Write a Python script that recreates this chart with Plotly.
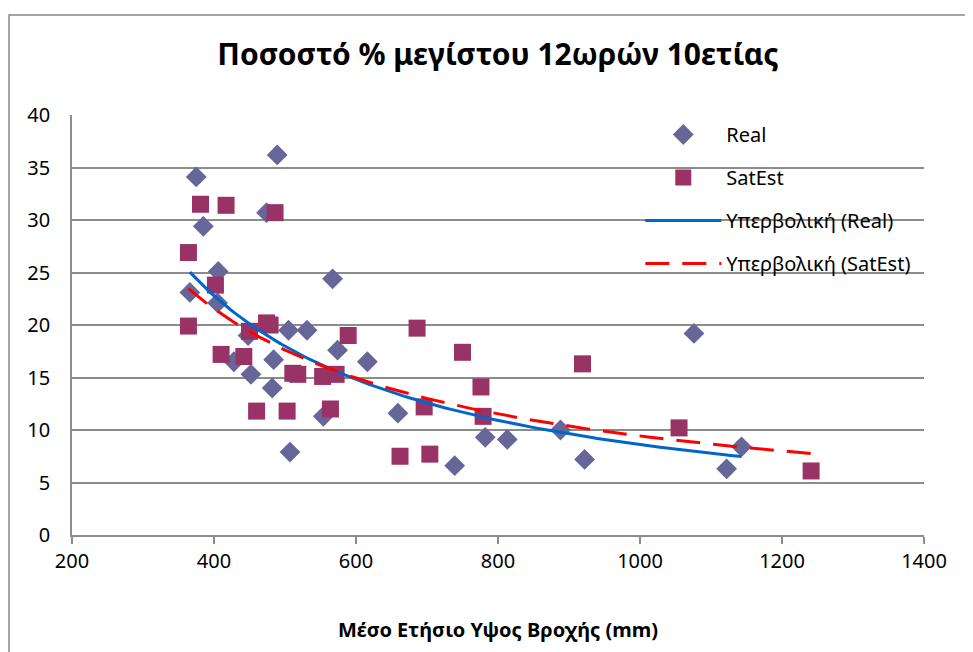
import numpy as np
import plotly.graph_objects as go

# ---- data ----
real_x = [489, 375, 474, 385, 406, 567, 366, 405, 505, 531, 574, 428, 484, 452,
          482, 554, 507, 616, 659, 782, 813, 739, 1076, 888, 922, 1122, 1143, 448]
real_y = [36.2, 34.1, 30.7, 29.4, 25.1, 24.4, 23.1, 22.1, 19.5, 19.5, 17.6, 16.5, 16.7, 15.3,
          14.0, 11.3, 7.9, 16.5, 11.6, 9.3, 9.1, 6.6, 19.2, 10.0, 7.2, 6.3, 8.4, 19.0]

sat_x = [381, 417, 486, 364, 402, 364, 474, 479, 450, 589, 410, 442, 511, 518, 553,
         572, 460, 503, 564, 686, 750, 776, 696, 779, 662, 704, 919, 1055, 1241]
sat_y = [31.5, 31.4, 30.7, 26.9, 23.8, 19.9, 20.2, 20.0, 19.4, 19.0, 17.2, 17.0, 15.4, 15.3, 15.1,
         15.3, 11.8, 11.8, 12.0, 19.7, 17.4, 14.1, 12.2, 11.3, 7.5, 7.7, 16.3, 10.2, 6.1]

title_text = "Ποσοστό % μεγίστου 12ωρών 10ετίας"
x_title = "Μέσο Ετήσιο Υψος Βροχής (mm)"
names = ["Real", "SatEst", "Υπερβολική (Real)", "Υπερβολική (SatEst)"]


def power_fit(x, y, n=150):
    x = np.asarray(x, float)
    y = np.asarray(y, float)
    b, loga = np.polyfit(np.log(x), np.log(y), 1)
    xs = np.linspace(x.min(), x.max(), n)
    return xs, np.exp(loga) * xs ** b


rx, ry = power_fit(real_x, real_y)
sx, sy = power_fit(sat_x, sat_y)

FONT = "Noto Sans"
fig = go.Figure()
fig.add_trace(go.Scatter(x=real_x, y=real_y, mode="markers", name=names[0], legendgroup="a",
                         marker=dict(symbol="diamond", size=16, color="#666699", line=dict(width=0))))
fig.add_trace(go.Scatter(x=sat_x, y=sat_y, mode="markers", name=names[1], legendgroup="b",
                         marker=dict(symbol="square", size=17, color="#993366", line=dict(width=0))))
fig.add_trace(go.Scatter(x=rx, y=ry, mode="lines", name=names[2], legendgroup="c",
                         line=dict(color="#0066CC", width=3)))
fig.add_trace(go.Scatter(x=sx, y=sy, mode="lines", name=names[3], legendgroup="d",
                         line=dict(color="#FF0000", width=3, dash="24px,13px")))

grid = "#8c8c8c"
fig.update_layout(
    width=973, height=652,
    margin=dict(l=64, r=57, t=107, b=125),
    paper_bgcolor="white", plot_bgcolor="white",
    font=dict(family=FONT, size=20, color="black"),
    title=dict(text="<b>" + title_text + "</b>", x=0.5, xref="paper", y=0.928, yref="container",
               xanchor="center", yanchor="middle", font=dict(size=30, family=FONT)),
    showlegend=True,
    legend=dict(x=0.667, xanchor="left", y=1.0, yanchor="top", tracegroupgap=14, itemwidth=76,
                font=dict(size=20, family=FONT), bgcolor="rgba(0,0,0,0)"),
    xaxis=dict(range=[200, 1400], dtick=200, tick0=200, showgrid=False, zeroline=False,
               showline=True, linecolor=grid, linewidth=1.5, ticks="outside", ticklen=7,
               tickcolor=grid, tickwidth=1.5, tickfont=dict(size=20),
               title=dict(text="<b>" + x_title + "</b>", font=dict(size=20), standoff=50)),
    yaxis=dict(range=[0, 40], dtick=5, showgrid=True, gridcolor=grid, gridwidth=1.5,
               zeroline=False, showline=True, linecolor=grid, linewidth=1.5, ticks="",
               ticklabelstandoff=16, tickfont=dict(size=20)),
    shapes=[dict(type="rect", xref="paper", yref="paper", x0=-0.0739, x1=1.3, y0=-0.6, y1=1.238,
                 line=dict(color="#868686", width=1.5), fillcolor="rgba(0,0,0,0)", layer="below")],
)

fig.write_html("out.html")
